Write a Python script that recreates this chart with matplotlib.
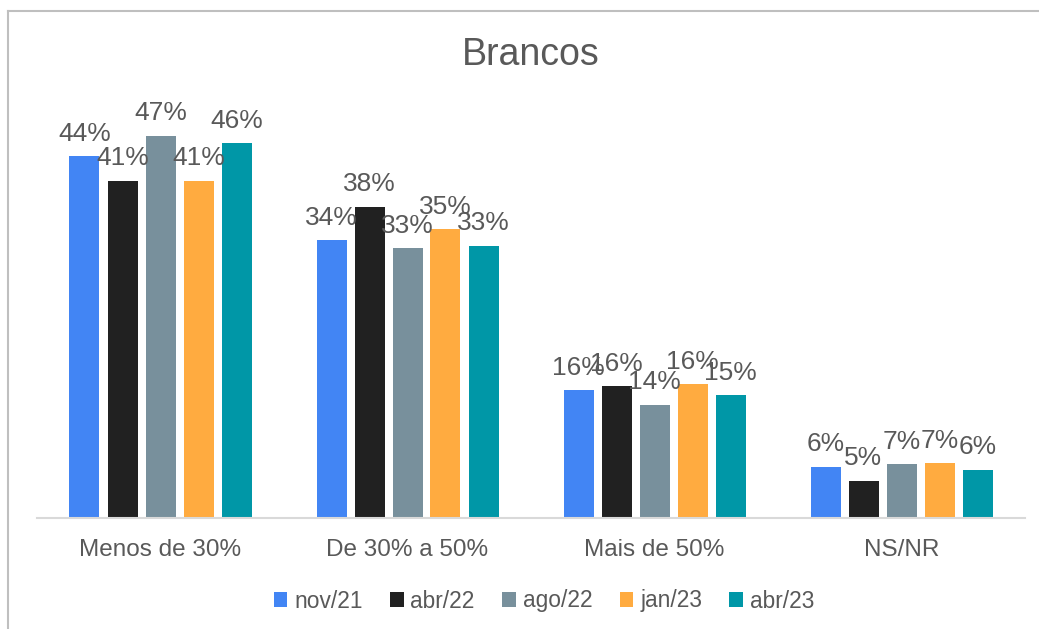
import matplotlib.pyplot as plt
from matplotlib.lines import Line2D
import numpy as np

plt.rcParams['font.family'] = ['Liberation Sans', 'DejaVu Sans']

categories = ["Menos de 30%", "De 30% a 50%", "Mais de 50%", "NS/NR"]
series = ["nov/21", "abr/22", "ago/22", "jan/23", "abr/23"]
values = {
    "nov/21": [44.4, 34.1, 15.7, 6.3],
    "abr/22": [41.4, 38.2, 16.2, 4.6],
    "ago/22": [46.9, 33.1, 13.9, 6.6],
    "jan/23": [41.4, 35.4, 16.4, 6.7],
    "abr/23": [46.0, 33.4, 15.1, 5.9],
}
colors = ["#4285F4", "#212121", "#78909C", "#FFAB40", "#0097A7"]
text_color = "#595959"

W, H = 1039, 629
fig = plt.figure(figsize=(W / 100, H / 100), dpi=100)
ax = fig.add_axes([37 / W, (H - 518) / H, (1025 - 37) / W, 407.5 / H])

x = np.arange(len(categories))
step = 38 / 247
width = 30 / 247
for i, s in enumerate(series):
    pos = x + (i - 2) * step
    bars = ax.bar(pos, values[s], width, color=colors[i], label=s)
    for b, v in zip(bars, values[s]):
        ax.annotate(f"{round(v):.0f}%", (b.get_x() + b.get_width() / 2, v),
                    xytext=(0, 7.5), textcoords="offset points",
                    ha="center", va="bottom", fontsize=19, color=text_color)

ax.set_xlim(-0.5, 3.5)
ax.set_ylim(0, 50)
ax.set_xticks(x)
ax.set_xticklabels(categories, fontsize=17.5, color=text_color)
ax.tick_params(axis="x", length=0, pad=15)
ax.set_yticks([])
for sp in ["top", "right", "left"]:
    ax.spines[sp].set_visible(False)
ax.spines["bottom"].set_color("#D9D9D9")
ax.spines["bottom"].set_linewidth(1.5)

fig.text(531 / W, 1 - 55 / H, "Brancos", ha="center", va="center",
         fontsize=27, color=text_color)

leg = fig.legend(loc="center", bbox_to_anchor=(544 / W, 1 - 601 / H), ncol=5,
                 frameon=False, fontsize=16.4, handlelength=0.6, handleheight=0.6,
                 handletextpad=0.3, columnspacing=1.2, labelcolor=text_color)

# chart frame (left and top edges visible)
fig.add_artist(Line2D([8 / W, 8 / W], [0, 1 - 11 / H], transform=fig.transFigure,
                      color="#BFBFBF", lw=1.5))
fig.add_artist(Line2D([8 / W, 1], [1 - 11 / H, 1 - 11 / H], transform=fig.transFigure,
                      color="#BFBFBF", lw=1.5))

fig.savefig("out.png", dpi=100)
